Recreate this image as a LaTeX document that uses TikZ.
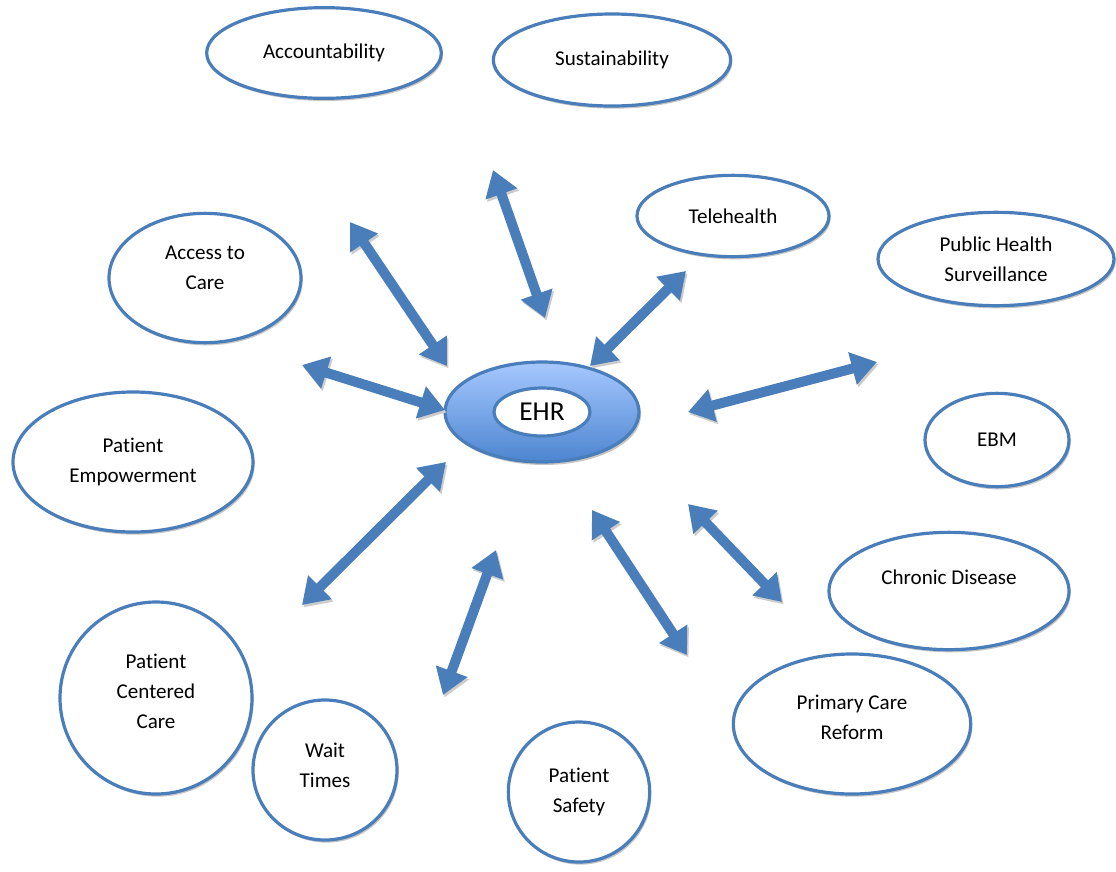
\documentclass[tikz,border=0pt]{standalone}
\usepackage{fontspec}
\setmainfont{Carlito}[Ligatures=NoCommon]
\usetikzlibrary{shapes.geometric,arrows.meta,shadows}
\definecolor{ehrblue}{HTML}{4A7EBB}
\definecolor{ehrlight}{HTML}{A6C8FF}
\definecolor{ehrdark}{HTML}{4D85D0}

\begin{document}
\begin{tikzpicture}[x=0.75pt,y=-0.75pt,
    topic/.style={ellipse,draw=ehrblue,line width=2.4pt,fill=white,inner sep=0pt,
      align=center,font=\fontsize{15.8}{22.5}\selectfont,
      drop shadow={shadow xshift=1.2pt,shadow yshift=-2pt,fill=gray!45,opacity=1}},
    lift/.style={text depth=#1},
    link/.style={draw=ehrblue,line width=7.5pt,
      {Triangle[width=24pt,length=19pt]}-{Triangle[width=24pt,length=19pt]},
      preaction={draw=gray!40,transform canvas={shift={(1.2pt,-1.8pt)}}}}]
  \useasboundingbox (0,0) rectangle (1116,871);

  % EHR hub
  \fill[gray!45] (544,415) ellipse [x radius=97,y radius=50];
  \draw[ehrblue,line width=2.4pt,top color=ehrlight,bottom color=ehrdark]
    (542,412) ellipse [x radius=97,y radius=50];
  \node[ellipse,draw=ehrblue,line width=2.4pt,fill=white,inner sep=0pt,
    minimum width=72pt,minimum height=36pt,font=\fontsize{20.5}{24}\selectfont]
    (ehr) at (542,412) {EHR};

  % topics
  \node[topic,minimum width=176pt,minimum height=68pt] (acc) at (324,53) {Accountability};
  \node[topic,minimum width=178pt,minimum height=69pt] (sus) at (612,60) {Sustainability};
  \node[topic,minimum width=144pt,minimum height=61pt] (tel) at (733,216) {Telehealth};
  \node[topic,minimum width=177pt,minimum height=70pt] (phs) at (996,259) {Public Health\\Surveillance};
  \node[topic,lift=16pt,minimum width=144pt,minimum height=97pt] (atc) at (205,278) {Access to\\Care};
  \node[topic,minimum width=108pt,minimum height=70pt] (ebm) at (997,440) {EBM};
  \node[topic,minimum width=180pt,minimum height=105pt] (pem) at (133,462) {Patient\\Empowerment};
  \node[topic,lift=21pt,minimum width=180pt,minimum height=88pt] (chd) at (949,591) {Chronic Disease};
  \node[topic,lift=10pt,minimum width=178pt,minimum height=105pt] (pcr) at (852,724) {Primary Care\\Reform};
  \node[topic,lift=10pt,minimum width=144pt,minimum height=144pt] (pcc) at (156,698) {Patient\\Centered\\Care};
  \node[topic,lift=7.5pt,minimum width=108pt,minimum height=105pt] (wt) at (325,770) {Wait\\Times};
  \node[topic,minimum width=106pt,minimum height=105pt] (ps) at (579,792) {Patient\\Safety};

  % arrow ends
  \coordinate (a1) at (350,222);  \coordinate (b1) at (447,366);
  \coordinate (a2) at (493,170);  \coordinate (b2) at (545,318);
  \coordinate (a3) at (686,271);  \coordinate (b3) at (590,366);
  \coordinate (a4) at (877,362);  \coordinate (b4) at (688,412);
  \coordinate (a5) at (302,365);  \coordinate (b5) at (445,410);
  \coordinate (a6) at (446,462);  \coordinate (b6) at (302,605);
  \coordinate (a7) at (496,550);  \coordinate (b7) at (443,695);
  \coordinate (a8) at (592,510);  \coordinate (b8) at (687,655);
  \coordinate (a9) at (688,504);  \coordinate (b9) at (782,602);

  \foreach \i in {1,...,9}
    \draw[link] (a\i) -- (b\i);
\end{tikzpicture}
\end{document}
